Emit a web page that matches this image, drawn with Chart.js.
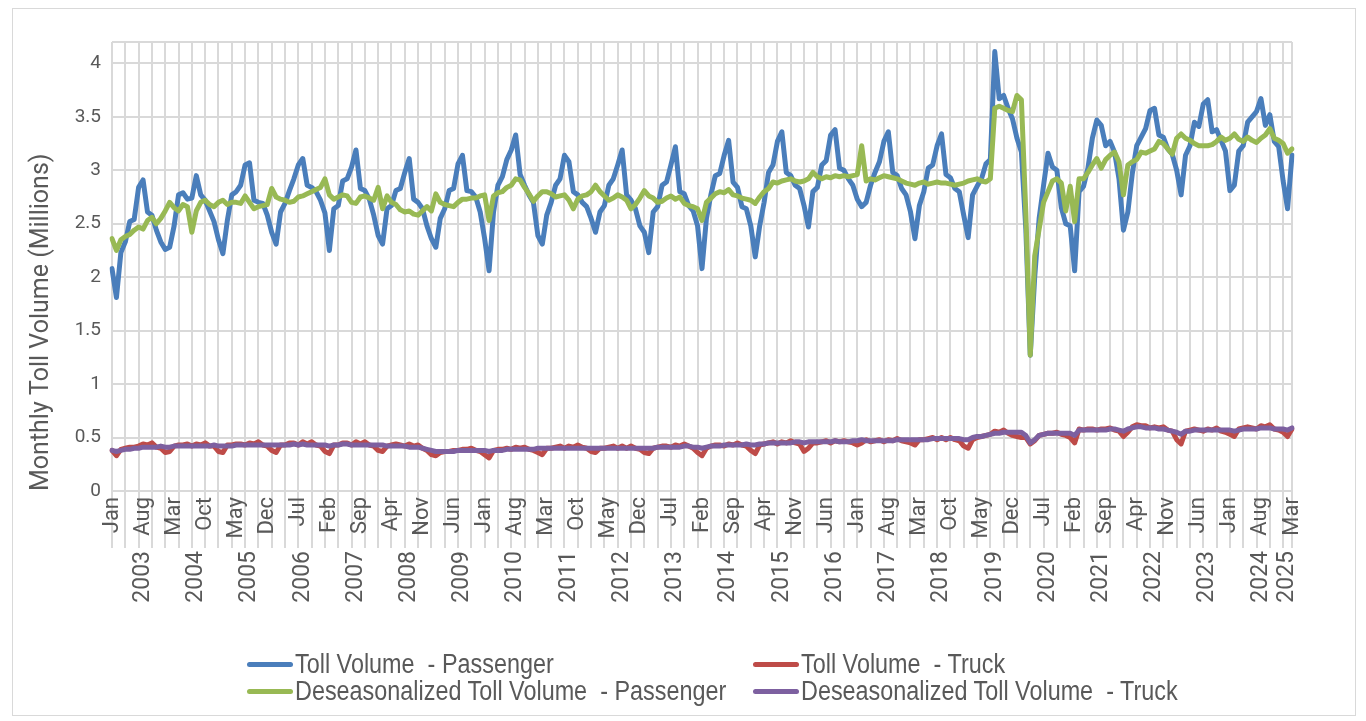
<!DOCTYPE html>
<html>
<head>
<meta charset="utf-8">
<script src="https://cdn.jsdelivr.net/npm/chart.js@4.4.1/dist/chart.umd.min.js"></script>
<style>
  html, body { margin: 0; padding: 0; background: #fff; }
  #wrap { position: relative; width: 1366px; height: 721px; overflow: hidden; }
  #frame { position: absolute; left: 12px; top: 8px; width: 1344px; height: 708px; border: 1px solid #d9d9d9; box-sizing: border-box; pointer-events: none; }
  #legend { position: absolute; left: 0; top: 0; font-family: "Liberation Sans", Arial, sans-serif; font-size: 23.4px; color: #595959; }
  .item { position: absolute; height: 28px; display: flex; align-items: center; white-space: pre; }
  .swatch { width: 46px; height: 5px; border-radius: 3px; margin-right: 2px; flex: none; }
  .item span { display: inline-block; transform: scaleY(1.15); }
</style>
</head>
<body>
<div id="wrap">
  <canvas id="toll-chart" width="1366" height="721"></canvas>
  <div id="frame"></div>
  <div id="legend"></div>
</div>
<script>
// months run Jan 2003 .. Mar 2025
const MONTH_NAMES = ['Jan', 'Feb', 'Mar', 'Apr', 'May', 'Jun', 'Jul', 'Aug', 'Sep', 'Oct', 'Nov', 'Dec'];
const YEARS = ['2003', '2004', '2005', '2006', '2007', '2008', '2009', '2010', '2011', '2012', '2013', '2014',
  '2015', '2016', '2017', '2018', '2019', '2020', '2021', '2022', '2023', '2024', '2025'];
const MONTHS_IN_LAST_YEAR = 3;
const Y_TICKS = [0, 0.5, 1, 1.5, 2, 2.5, 3, 3.5, 4];
const Y_MAX = 4.2;

// millions, one row per year
const tollPassenger = [
  2.08, 1.81, 2.23, 2.33, 2.52, 2.54, 2.84, 2.91, 2.61, 2.58, 2.44, 2.33,
  2.26, 2.28, 2.48, 2.77, 2.79, 2.73, 2.74, 2.95, 2.77, 2.72, 2.62, 2.52,
  2.35, 2.22, 2.53, 2.77, 2.80, 2.86, 3.05, 3.07, 2.72, 2.70, 2.69, 2.58,
  2.42, 2.31, 2.61, 2.69, 2.81, 2.92, 3.05, 3.11, 2.86, 2.84, 2.80, 2.72,
  2.60, 2.25, 2.64, 2.67, 2.90, 2.92, 3.03, 3.19, 2.83, 2.81, 2.73, 2.58,
  2.39, 2.31, 2.64, 2.67, 2.81, 2.83, 2.98, 3.11, 2.73, 2.70, 2.64, 2.48,
  2.36, 2.28, 2.55, 2.64, 2.81, 2.83, 3.06, 3.14, 2.81, 2.80, 2.75, 2.61,
  2.36, 2.06, 2.61, 2.86, 2.94, 3.10, 3.19, 3.33, 2.96, 2.86, 2.77, 2.70,
  2.39, 2.31, 2.58, 2.70, 2.86, 2.92, 3.14, 3.08, 2.80, 2.77, 2.70, 2.66,
  2.55, 2.42, 2.61, 2.67, 2.86, 2.92, 3.05, 3.19, 2.77, 2.72, 2.64, 2.48,
  2.42, 2.23, 2.61, 2.66, 2.86, 2.89, 3.05, 3.22, 2.80, 2.78, 2.67, 2.62,
  2.48, 2.08, 2.55, 2.77, 2.95, 2.97, 3.14, 3.28, 2.89, 2.84, 2.66, 2.64,
  2.48, 2.19, 2.48, 2.70, 2.98, 3.05, 3.27, 3.36, 2.98, 2.95, 2.86, 2.83,
  2.67, 2.47, 2.80, 2.84, 3.05, 3.09, 3.33, 3.38, 3.02, 3.00, 2.92, 2.86,
  2.73, 2.66, 2.70, 2.86, 2.98, 3.08, 3.27, 3.36, 2.98, 2.95, 2.83, 2.77,
  2.61, 2.36, 2.67, 2.80, 3.02, 3.05, 3.23, 3.34, 2.96, 2.93, 2.83, 2.80,
  2.58, 2.37, 2.77, 2.85, 2.92, 3.06, 3.10, 4.11, 3.67, 3.70, 3.58, 3.48,
  3.30, 3.17, 2.45, 1.27, 2.00, 2.55, 2.86, 3.16, 3.03, 3.00, 2.65, 2.50,
  2.48, 2.06, 2.80, 2.85, 3.02, 3.30, 3.47, 3.42, 3.23, 3.27, 3.17, 2.92,
  2.44, 2.61, 2.97, 3.23, 3.31, 3.39, 3.56, 3.58, 3.33, 3.31, 3.20, 3.15,
  3.00, 2.77, 3.14, 3.23, 3.45, 3.41, 3.62, 3.66, 3.36, 3.38, 3.28, 3.18,
  2.81, 2.86, 3.18, 3.23, 3.45, 3.50, 3.55, 3.67, 3.42, 3.52, 3.27, 3.22,
  2.90, 2.64, 3.14,
];

const tollTruck = [
  0.38, 0.33, 0.39, 0.40, 0.41, 0.41, 0.42, 0.44, 0.43, 0.45, 0.41, 0.40,
  0.36, 0.37, 0.42, 0.43, 0.43, 0.44, 0.42, 0.44, 0.43, 0.45, 0.42, 0.42,
  0.37, 0.36, 0.43, 0.43, 0.44, 0.44, 0.43, 0.45, 0.44, 0.46, 0.43, 0.42,
  0.38, 0.36, 0.43, 0.43, 0.45, 0.45, 0.43, 0.46, 0.44, 0.46, 0.43, 0.42,
  0.37, 0.35, 0.43, 0.43, 0.45, 0.45, 0.43, 0.46, 0.44, 0.46, 0.43, 0.42,
  0.38, 0.37, 0.42, 0.43, 0.44, 0.43, 0.42, 0.44, 0.42, 0.43, 0.40, 0.38,
  0.34, 0.33, 0.36, 0.37, 0.37, 0.38, 0.38, 0.39, 0.39, 0.40, 0.38, 0.37,
  0.34, 0.31, 0.38, 0.39, 0.39, 0.40, 0.39, 0.41, 0.40, 0.41, 0.39, 0.38,
  0.36, 0.34, 0.40, 0.40, 0.41, 0.42, 0.40, 0.42, 0.41, 0.43, 0.41, 0.40,
  0.37, 0.36, 0.40, 0.40, 0.41, 0.42, 0.40, 0.42, 0.40, 0.42, 0.40, 0.39,
  0.36, 0.35, 0.40, 0.41, 0.42, 0.42, 0.41, 0.43, 0.42, 0.44, 0.42, 0.40,
  0.36, 0.33, 0.40, 0.42, 0.43, 0.43, 0.42, 0.44, 0.43, 0.45, 0.43, 0.42,
  0.38, 0.35, 0.43, 0.44, 0.45, 0.46, 0.44, 0.46, 0.45, 0.47, 0.45, 0.44,
  0.37, 0.40, 0.45, 0.45, 0.46, 0.47, 0.45, 0.47, 0.46, 0.47, 0.46, 0.45,
  0.43, 0.45, 0.48, 0.46, 0.47, 0.48, 0.46, 0.48, 0.47, 0.49, 0.47, 0.46,
  0.45, 0.43, 0.48, 0.48, 0.49, 0.50, 0.48, 0.50, 0.48, 0.50, 0.48, 0.47,
  0.42, 0.40, 0.48, 0.50, 0.51, 0.52, 0.53, 0.56, 0.55, 0.57, 0.54, 0.52,
  0.51, 0.50, 0.50, 0.44, 0.47, 0.52, 0.53, 0.54, 0.54, 0.55, 0.53, 0.52,
  0.50, 0.45, 0.58, 0.57, 0.58, 0.58, 0.57, 0.58, 0.58, 0.59, 0.57, 0.56,
  0.51, 0.55, 0.60, 0.62, 0.61, 0.61, 0.59, 0.60, 0.59, 0.60, 0.57, 0.56,
  0.48, 0.44, 0.56, 0.57, 0.58, 0.57, 0.56, 0.58, 0.57, 0.59, 0.56, 0.55,
  0.53, 0.51, 0.58, 0.59, 0.60, 0.59, 0.58, 0.61, 0.60, 0.62, 0.58, 0.57,
  0.55, 0.51, 0.58,
];

const deseasonPassenger = [
  2.36, 2.25, 2.35, 2.38, 2.40, 2.44, 2.47, 2.45, 2.53, 2.56, 2.50, 2.55,
  2.62, 2.70, 2.65, 2.62, 2.68, 2.66, 2.42, 2.62, 2.70, 2.72, 2.68, 2.66,
  2.70, 2.72, 2.68, 2.70, 2.70, 2.69, 2.76, 2.70, 2.64, 2.66, 2.67, 2.68,
  2.83, 2.75, 2.73, 2.72, 2.70, 2.71, 2.75, 2.76, 2.78, 2.80, 2.82, 2.84,
  2.92, 2.77, 2.73, 2.75, 2.77, 2.76, 2.70, 2.69, 2.75, 2.76, 2.74, 2.72,
  2.84, 2.64, 2.76, 2.70, 2.68, 2.63, 2.61, 2.62, 2.59, 2.58, 2.62, 2.66,
  2.62, 2.78, 2.70, 2.68, 2.67, 2.66, 2.70, 2.73, 2.73, 2.74, 2.74, 2.76,
  2.77, 2.53, 2.76, 2.79, 2.80, 2.84, 2.86, 2.92, 2.91, 2.84, 2.78, 2.71,
  2.76, 2.80, 2.80, 2.78, 2.75, 2.76, 2.77, 2.72, 2.64, 2.73, 2.76, 2.77,
  2.80, 2.86, 2.80, 2.76, 2.72, 2.74, 2.77, 2.75, 2.72, 2.64, 2.68, 2.74,
  2.81, 2.76, 2.74, 2.70, 2.71, 2.74, 2.76, 2.73, 2.75, 2.69, 2.67, 2.66,
  2.64, 2.53, 2.70, 2.74, 2.78, 2.80, 2.79, 2.82, 2.77, 2.76, 2.74, 2.73,
  2.72, 2.69, 2.75, 2.80, 2.83, 2.89, 2.88, 2.90, 2.91, 2.92, 2.90, 2.89,
  2.90, 2.92, 2.98, 2.94, 2.92, 2.94, 2.93, 2.95, 2.94, 2.95, 2.94, 2.95,
  2.96, 3.23, 2.90, 2.92, 2.91, 2.93, 2.95, 2.94, 2.93, 2.92, 2.90, 2.88,
  2.87, 2.86, 2.88, 2.89, 2.87, 2.88, 2.89, 2.88, 2.88, 2.87, 2.86, 2.87,
  2.88, 2.90, 2.91, 2.92, 2.90, 2.89, 2.92, 3.58, 3.60, 3.58, 3.56, 3.55,
  3.70, 3.66, 2.60, 1.27, 2.20, 2.45, 2.70, 2.80, 2.90, 2.92, 2.88, 2.62,
  2.85, 2.52, 2.92, 2.92, 2.98, 3.05, 3.11, 3.02, 3.10, 3.14, 3.17, 3.08,
  2.77, 3.05, 3.08, 3.10, 3.17, 3.16, 3.18, 3.20, 3.27, 3.25, 3.20, 3.15,
  3.30, 3.34, 3.30, 3.28, 3.25, 3.23, 3.23, 3.23, 3.24, 3.27, 3.31, 3.28,
  3.30, 3.34, 3.29, 3.27, 3.31, 3.28, 3.26, 3.30, 3.33, 3.39, 3.30, 3.28,
  3.25, 3.16, 3.20,
];

const deseasonTruck = [
  0.38, 0.37, 0.38, 0.39, 0.39, 0.40, 0.40, 0.41, 0.41, 0.41, 0.41, 0.42,
  0.41, 0.41, 0.42, 0.42, 0.42, 0.42, 0.42, 0.42, 0.42, 0.42, 0.42, 0.43,
  0.42, 0.42, 0.42, 0.42, 0.43, 0.43, 0.43, 0.43, 0.43, 0.43, 0.43, 0.43,
  0.43, 0.43, 0.43, 0.43, 0.43, 0.44, 0.43, 0.44, 0.43, 0.43, 0.43, 0.43,
  0.43, 0.42, 0.43, 0.43, 0.44, 0.44, 0.43, 0.43, 0.43, 0.43, 0.43, 0.43,
  0.43, 0.43, 0.42, 0.42, 0.42, 0.42, 0.42, 0.41, 0.41, 0.41, 0.40, 0.39,
  0.38, 0.37, 0.37, 0.37, 0.37, 0.37, 0.38, 0.38, 0.38, 0.38, 0.38, 0.38,
  0.38, 0.37, 0.38, 0.38, 0.38, 0.39, 0.39, 0.39, 0.39, 0.39, 0.39, 0.39,
  0.40, 0.40, 0.40, 0.40, 0.40, 0.40, 0.40, 0.40, 0.40, 0.40, 0.40, 0.40,
  0.40, 0.40, 0.40, 0.40, 0.40, 0.40, 0.40, 0.40, 0.40, 0.40, 0.40, 0.40,
  0.40, 0.40, 0.40, 0.41, 0.41, 0.41, 0.41, 0.41, 0.41, 0.42, 0.42, 0.41,
  0.41, 0.40, 0.41, 0.42, 0.42, 0.42, 0.43, 0.43, 0.43, 0.43, 0.43, 0.44,
  0.43, 0.43, 0.44, 0.44, 0.45, 0.45, 0.45, 0.45, 0.45, 0.45, 0.46, 0.46,
  0.45, 0.46, 0.46, 0.46, 0.46, 0.46, 0.46, 0.47, 0.46, 0.46, 0.46, 0.47,
  0.47, 0.48, 0.47, 0.47, 0.47, 0.47, 0.47, 0.47, 0.47, 0.48, 0.48, 0.48,
  0.48, 0.48, 0.48, 0.48, 0.48, 0.49, 0.49, 0.49, 0.49, 0.49, 0.49, 0.49,
  0.48, 0.48, 0.50, 0.51, 0.51, 0.52, 0.53, 0.54, 0.54, 0.55, 0.55, 0.55,
  0.55, 0.55, 0.52, 0.45, 0.48, 0.52, 0.53, 0.54, 0.54, 0.54, 0.54, 0.54,
  0.54, 0.52, 0.57, 0.57, 0.57, 0.57, 0.57, 0.57, 0.57, 0.58, 0.58, 0.57,
  0.56, 0.58, 0.59, 0.60, 0.60, 0.59, 0.59, 0.59, 0.58, 0.58, 0.57, 0.56,
  0.55, 0.53, 0.56, 0.56, 0.57, 0.57, 0.57, 0.57, 0.57, 0.57, 0.57, 0.57,
  0.57, 0.56, 0.57, 0.58, 0.58, 0.58, 0.58, 0.59, 0.59, 0.59, 0.58, 0.58,
  0.58, 0.57, 0.59,
];

const SERIES_LABELS = [
  'Toll Volume  - Passenger',
  'Toll Volume  - Truck',
  'Deseasonalized Toll Volume  - Passenger',
  'Deseasonalized Toll Volume  - Truck',
];
const SERIES_COLORS = ['#4a7ebb', '#be4b48', '#98b954', '#7d60a0'];

const TEXT_COLOR = '#595959';
const GRID_COLOR = '#d9d9d9';
const LABEL_STEP = 7;   // a month name every 7 months
const GRID_STEP = 3;    // vertical grid line every quarter
const YEAR_LABEL_MONTH = 7;

// category labels and year tick positions
const monthLabels = [];
const yearTickPos = [];
YEARS.forEach((year, y) => {
  const count = y === YEARS.length - 1 ? MONTHS_IN_LAST_YEAR : 12;
  const first = monthLabels.length;
  for (let m = 0; m < count; m++) monthLabels.push(MONTH_NAMES[m]);
  yearTickPos.push(count === 12 ? first + YEAR_LABEL_MONTH : first + (count - 1) / 2);
});
const lastIdx = monthLabels.length - 1;

const datasets = [tollPassenger, tollTruck, deseasonPassenger, deseasonTruck].map((values, i) => ({
  label: SERIES_LABELS[i],
  data: values,
  borderColor: SERIES_COLORS[i],
  backgroundColor: SERIES_COLORS[i],
  borderWidth: 5,
  pointRadius: 0,
  tension: 0,
  borderCapStyle: 'round',
  borderJoinStyle: 'round',
  order: 4 - i,
}));

new Chart(document.getElementById('toll-chart'), {
  type: 'line',
  data: { labels: monthLabels, datasets: datasets },
  options: {
    responsive: false,
    animation: false,
    layout: { padding: { left: 0, right: 74, top: 42, bottom: 113 } },
    plugins: { legend: { display: false }, tooltip: { enabled: false } },
    scales: {
      x: {
        type: 'category',
        offset: false,
        weight: 0,
        border: { display: false },
        grid: {
          color: (ctx) => (ctx.index % GRID_STEP === 0 || ctx.index === lastIdx ? GRID_COLOR : 'rgba(0,0,0,0)'),
          lineWidth: 2,
          tickLength: 57,
        },
        ticks: {
          autoSkip: false,
          minRotation: 90,
          maxRotation: 90,
          padding: -51,
          color: TEXT_COLOR,
          font: { family: 'Roboto', size: 22 },
          callback: function (value, index) {
            return index % LABEL_STEP === 0 ? this.getLabelForValue(value) : '';
          },
        },
        afterFit: (scale) => { scale.height = 57; },
      },
      years: {
        type: 'linear',
        axis: 'x',
        position: 'bottom',
        weight: 1,
        min: 0,
        max: lastIdx,
        border: { display: false },
        grid: { display: false, drawTicks: false },
        afterBuildTicks: (scale) => { scale.ticks = yearTickPos.map((v) => ({ value: v })); },
        ticks: {
          autoSkip: false,
          minRotation: 90,
          maxRotation: 90,
          padding: 3,
          color: TEXT_COLOR,
          font: { family: 'Roboto', size: 23 },
          callback: (value, index) => YEARS[index],
        },
        afterFit: (scale) => { scale.height = 60; },
      },
      y: {
        min: 0,
        max: Y_MAX,
        border: { display: false },
        grid: { color: GRID_COLOR, lineWidth: 2, drawTicks: false },
        // explicit ticks; the top one only closes the plot frame
        afterBuildTicks: (scale) => { scale.ticks = Y_TICKS.concat([Y_MAX]).map((v) => ({ value: v })); },
        ticks: {
          autoSkip: false,
          padding: 11,
          color: TEXT_COLOR,
          font: { family: 'Roboto', size: 19 },
          callback: (v) => (v === Y_MAX ? '' : String(v)),
        },
        title: {
          display: true,
          text: 'Monthly Toll Volume (Millions)',
          align: 'start',
          color: TEXT_COLOR,
          font: { family: 'Roboto', size: 25 },
          padding: { top: 27, bottom: 0 },
        },
        afterFit: (scale) => { scale.width = 112; },
      },
    },
  },
});

// legend: two columns, two rows
const legendPos = [
  { left: 247, top: 650 }, { left: 753, top: 650 },
  { left: 247, top: 677 }, { left: 753, top: 677 },
];
const legend = document.getElementById('legend');
SERIES_LABELS.forEach((label, i) => {
  const item = document.createElement('div');
  item.className = 'item';
  item.style.left = legendPos[i].left + 'px';
  item.style.top = legendPos[i].top + 'px';
  item.innerHTML = '<div class="swatch" style="background:' + SERIES_COLORS[i] + '"></div><span></span>';
  item.querySelector('span').textContent = label;
  legend.appendChild(item);
});
</script>
</body>
</html>
